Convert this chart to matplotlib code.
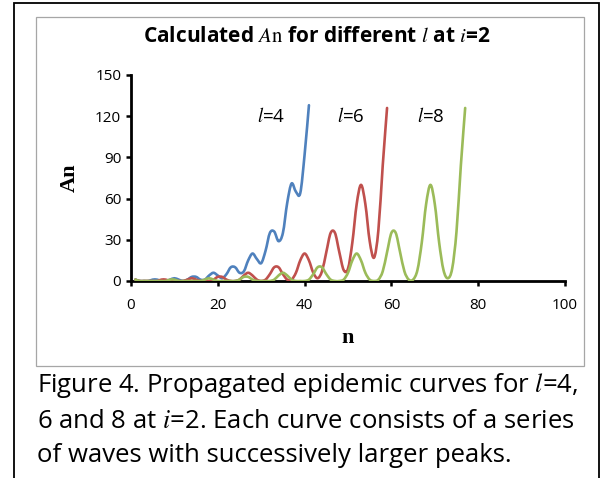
import matplotlib
matplotlib.use("Agg")
import matplotlib.pyplot as plt
from matplotlib.path import Path
from matplotlib.patches import PathPatch, Rectangle

plt.rcParams['font.family'] = ['Open Sans', 'DejaVu Sans']
plt.rcParams['mathtext.fontset'] = 'stix'

# A_n values at n = 1, 2, 3, ... for each latent period l (i=2)
n_l4 = list(range(1, 42))
A_l4 = [1, 0, 0, 0, 1, 1, 0, 0, 1, 2,
        1, 0, 1, 3, 3, 1, 1, 4, 6, 4,
        2, 5, 10, 10, 6, 7, 15, 20, 16, 13,
        22, 35, 36, 29, 35, 57, 71, 65, 64, 92,
        128]

n_l6 = list(range(1, 60))
A_l6 = [1, 0, 0, 0, 0, 0, 1, 1, 0, 0,
        0, 0, 1, 2, 1, 0, 0, 0, 1, 3,
        3, 1, 0, 0, 1, 4, 6, 4, 1, 0,
        1, 5, 10, 10, 5, 1, 1, 6, 15, 20,
        15, 6, 2, 7, 21, 35, 35, 21, 8, 9,
        28, 56, 70, 56, 29, 17, 37, 84, 126]

n_l8 = list(range(1, 78))
A_l8 = [1, 0, 0, 0, 0, 0, 0, 0, 1, 1,
        0, 0, 0, 0, 0, 0, 1, 2, 1, 0,
        0, 0, 0, 0, 1, 3, 3, 1, 0, 0,
        0, 0, 1, 4, 6, 4, 1, 0, 0, 0,
        1, 5, 10, 10, 5, 1, 0, 0, 1, 6,
        15, 20, 15, 6, 1, 0, 1, 7, 21, 35,
        35, 21, 7, 1, 1, 8, 28, 56, 70, 56,
        28, 8, 2, 9, 36, 84, 126]

series = [(n_l4, A_l4, '#4F81BD'), (n_l6, A_l6, '#C0504D'), (n_l8, A_l8, '#9BBB59')]
curve_labels = [r'$\mathit{l}$=4', r'$\mathit{l}$=6', r'$\mathit{l}$=8']
label_x = [257, 337, 417]  # pixel positions of the in-plot labels
label_y = 116


def smooth_path(xs, ys):
    """Excel style smoothed line: cubic bezier through every point."""
    verts = [(xs[0], ys[0])]
    codes = [Path.MOVETO]
    last = len(xs) - 1
    for i in range(last):
        a = max(i - 1, 0)
        b = min(i + 2, last)
        c1 = (xs[i] + (xs[i + 1] - xs[a]) / 6.0, ys[i] + (ys[i + 1] - ys[a]) / 6.0)
        c2 = (xs[i + 1] - (xs[b] - xs[i]) / 6.0, ys[i + 1] - (ys[b] - ys[i]) / 6.0)
        verts += [c1, c2, (xs[i + 1], ys[i + 1])]
        codes += [Path.CURVE4] * 3
    return Path(verts, codes)


W, H = 603, 478
fig = plt.figure(figsize=(W / 100, H / 100), dpi=100)

# frames: outer black box and the grey chart area
fig.patches.append(Rectangle((14 / W, -0.05), (599 - 14) / W, 1.05 - 3 / H,
                             transform=fig.transFigure, fill=False,
                             edgecolor='black', linewidth=1.3))
fig.patches.append(Rectangle((36 / W, 1 - 366 / H), (584 - 36) / W, (366 - 17) / H,
                             transform=fig.transFigure, fill=False,
                             edgecolor='#A6A6A6', linewidth=0.9))

ax = fig.add_axes([131 / W, 1 - 281 / H, (565 - 131) / W, (281 - 75) / H])
ax.set_xlim(0, 100)
ax.set_ylim(0, 150)
ax.set_xticks(range(0, 101, 20))
ax.set_yticks(range(0, 151, 30))
for s in ['top', 'right']:
    ax.spines[s].set_visible(False)
for s in ['left', 'bottom']:
    ax.spines[s].set_linewidth(2.0)
    ax.spines[s].set_zorder(1)
ax.tick_params(axis='both', direction='out', length=3.5, width=1.8, labelsize=11)
ax.tick_params(axis='x', pad=8.5)
ax.tick_params(axis='y', pad=3.5)

for xs, ys, col in series:
    ax.add_patch(PathPatch(smooth_path(xs, ys), fill=False, edgecolor=col,
                           linewidth=1.9, capstyle='round', joinstyle='round',
                           zorder=3))

for txt, px in zip(curve_labels, label_x):
    fig.text(px / W, 1 - label_y / H, txt, fontsize=13.5, va='center', ha='left')

ax.set_xlabel('n', family='Liberation Serif', fontweight='bold', fontsize=16, labelpad=11)
ax.set_ylabel('An', family='Liberation Serif', fontweight='bold', fontsize=16, labelpad=11)

fig.text(317 / W, 1 - 36 / H,
         r'Calculated $\mathit{A}\mathrm{n}$ for different $\mathit{l}$ at $\mathit{i}$=2',
         fontsize=15, fontweight='bold', ha='center', va='center')

caption = [r'Figure 4. Propagated epidemic curves for $\mathit{l}$=4,',
           r'6 and 8 at $\mathit{i}$=2. Each curve consists of a series',
           'of waves with successively larger peaks.']
for k, line in enumerate(caption):
    fig.text(37 / W, 1 - (386 + 35 * k) / H, line, fontsize=18.5, ha='left', va='center')

fig.savefig('out.png', dpi=100)
